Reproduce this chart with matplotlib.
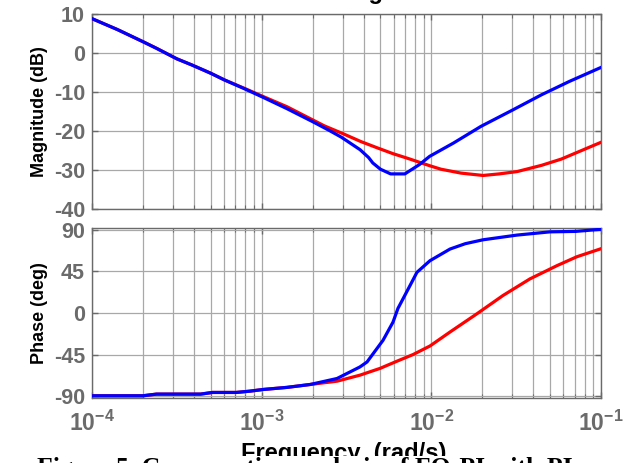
import matplotlib
matplotlib.use("Agg")
import matplotlib.pyplot as plt
from matplotlib.ticker import LogLocator, FixedLocator, NullFormatter
import numpy as np

plt.rcParams["font.family"] = ["Liberation Sans", "DejaVu Sans"]
plt.rcParams["mathtext.fontset"] = "custom"
plt.rcParams["mathtext.rm"] = "Liberation Sans:bold"
plt.rcParams["mathtext.bf"] = "Liberation Sans:bold"
plt.rcParams["axes.unicode_minus"] = False

# ─── Data (log10 of frequency in rad/s) ─────────────────────────────────────

mag_blue_logf = [-4.0, -3.85, -3.7, -3.62, -3.5, -3.41, -3.3, -3.22, -3.1, -3.0,
                 -2.85, -2.70, -2.60, -2.53, -2.42, -2.37, -2.345, -2.30, -2.26,
                 -2.24, -2.156, -2.07, -2.01, -1.87, -1.707, -1.52, -1.35,
                 -1.187, -1.0]
mag_blue_db = [8.8, 6.0, 2.9, 1.2, -1.5, -3.1, -5.2, -6.9, -9.2, -11.2,
               -14.3, -17.6, -19.9, -21.6, -24.8, -26.8, -28.2, -29.8, -30.6,
               -31.0, -31.0, -28.6, -26.5, -23.1, -18.8, -14.6, -10.7,
               -7.3, -3.7]

mag_red_logf = [-4.0, -3.85, -3.7, -3.62, -3.5, -3.41, -3.3, -3.22, -3.1, -3.0,
                -2.85, -2.747, -2.63, -2.52, -2.416, -2.32, -2.227, -2.14,
                -2.085, -2.01, -1.943, -1.825, -1.695, -1.60, -1.494, -1.35,
                -1.234, -1.0]
mag_red_db = [8.8, 6.0, 2.9, 1.2, -1.5, -3.1, -5.2, -6.9, -9.1, -11.0,
              -13.8, -16.1, -18.7, -20.7, -22.7, -24.3, -25.8, -27.0,
              -27.8, -28.9, -29.8, -30.8, -31.4, -31.0, -30.4, -28.8,
              -27.2, -22.9]

ph_blue_logf = [-4.0, -3.70, -3.62, -3.36, -3.29, -3.15, -3.069, -2.992, -2.85,
                -2.715, -2.556, -2.421, -2.379, -2.285, -2.226, -2.197, -2.126,
                -2.085, -2.008, -1.89, -1.80, -1.696, -1.496, -1.301, -1.15,
                -1.006]
ph_blue_deg = [-89.6, -89.6, -87.8, -87.8, -86.0, -86.0, -84.6, -82.8, -80.5,
               -77.4, -70.9, -58.4, -53.0, -29.6, -9.9, 4.9, 29.6,
               44.0, 56.6, 69.2, 75.0, 79.2, 84.3, 87.8, 88.3,
               90.5]

ph_red_logf = [-4.0, -3.70, -3.62, -3.36, -3.29, -3.15, -3.069, -2.992, -2.85,
               -2.715, -2.556, -2.421, -2.303, -2.203, -2.108, -2.008, -1.89,
               -1.731, -1.578, -1.419, -1.26, -1.142, -1.006]
ph_red_deg = [-89.6, -89.6, -87.8, -87.8, -86.0, -86.0, -84.6, -82.8, -80.5,
              -77.4, -73.8, -67.3, -60.0, -52.2, -45.0, -35.7, -20.6,
              -0.8, 18.9, 36.9, 51.2, 60.9, 69.2]

mag_ticks = [-40, -30, -20, -10, 0, 10]
ph_ticks = [-90, -45, 0, 45, 90]
freq_ticks = [1e-4, 1e-3, 1e-2, 1e-1]
freq_labels = [r"$10^{-4}$", r"$10^{-3}$", r"$10^{-2}$", r"$10^{-1}$"]

# ─── Style ──────────────────────────────────────────────────────────────────

TICK_C = "#6B6B6B"
SPINE_C = "#6A6A6A"
GRID_C = "#A8A8A8"
BLUE = "#0000FF"
RED = "#FF0000"

fig = plt.figure(figsize=(6.29, 4.63), dpi=100, facecolor="white")
ax_m = fig.add_axes([0.1463, 0.5486, 0.8092, 0.4212])
ax_p = fig.add_axes([0.1463, 0.1404, 0.8092, 0.3672])


def style(ax, yticks, ylim):
    ax.set_xscale("log")
    ax.set_xlim(1e-4, 1e-1)
    ax.set_ylim(*ylim)
    ax.set_yticks(yticks)
    ax.xaxis.set_major_locator(FixedLocator(freq_ticks))
    ax.xaxis.set_minor_locator(LogLocator(base=10, subs=np.arange(2, 10)))
    ax.xaxis.set_minor_formatter(NullFormatter())
    ax.grid(True, which="major", axis="both", color=GRID_C, linewidth=0.9)
    ax.grid(True, which="minor", axis="x", color=GRID_C, linewidth=0.9)
    ax.tick_params(which="both", direction="in", top=True, right=True,
                   colors=SPINE_C, labelcolor=TICK_C, labelsize=15.5)
    ax.tick_params(which="major", length=4, width=1.0)
    ax.tick_params(which="minor", length=3, width=0.8)
    ax.tick_params(axis="y", pad=5)
    for lbl in ax.get_yticklabels():
        lbl.set_fontweight("bold")
    for spine in ax.spines.values():
        spine.set_edgecolor(SPINE_C)
        spine.set_linewidth(1.0)
    ax.set_axisbelow(True)


# Magnitude
style(ax_m, mag_ticks, (-40, 10))
ax_m.plot(10 ** np.array(mag_red_logf), mag_red_db, color=RED, linewidth=2.3, zorder=3)
ax_m.plot(10 ** np.array(mag_blue_logf), mag_blue_db, color=BLUE, linewidth=2.3, zorder=4)
ax_m.set_xticklabels([])
ax_m.set_ylabel("Magnitude (dB)", fontsize=13, fontweight="bold", labelpad=4)

# Phase
style(ax_p, ph_ticks, (-92, 92))
ax_p.plot(10 ** np.array(ph_red_logf), ph_red_deg, color=RED, linewidth=2.3, zorder=3)
ax_p.plot(10 ** np.array(ph_blue_logf), ph_blue_deg, color=BLUE, linewidth=2.3, zorder=4)
ax_p.set_xticklabels(freq_labels, fontsize=16.5)
ax_p.tick_params(axis="x", pad=9)
ax_p.set_ylabel("Phase (deg)", fontsize=13, fontweight="bold", labelpad=4)

# Texts cut by the image border
fig.text(0.55, 0.992, "Bode Diagram", fontsize=17, fontweight="bold",
         ha="center", va="bottom", color="black")
fig.text(0.547, 0.0454, "Frequency  (rad/s)", fontsize=17, fontweight="bold",
         ha="center", va="top", color="black", zorder=1)
fig.text(0.485, 0.0125, "Figure 5. Comparative analysis of FO-PI with PI",
         fontsize=18.5, fontweight="bold", ha="center", va="top",
         family=["Liberation Serif", "DejaVu Serif"], color="black", zorder=2,
         bbox=dict(facecolor="white", edgecolor="none", pad=0.5))

fig.savefig("out.png", dpi=100, facecolor="white")
